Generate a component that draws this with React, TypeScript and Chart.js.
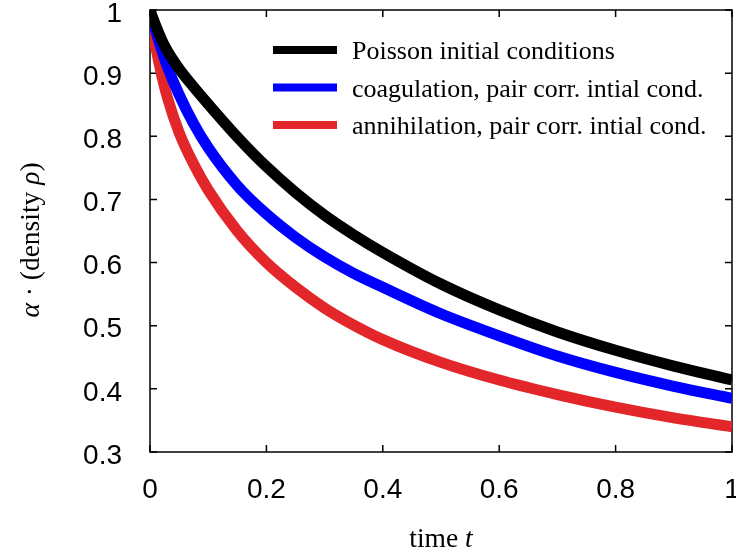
import React, { useEffect, useRef } from "react";
import { Chart, registerables } from "chart.js";

Chart.register(...registerables);

// time values (shared by all three series)
const T = [0, 0.005, 0.01, 0.02, 0.03, 0.05, 0.075, 0.1, 0.15, 0.2, 0.25, 0.3, 0.35, 0.4, 0.5, 0.6, 0.7, 0.8, 0.9, 1.0];
// alpha * density for each case
const POISSON = [1.0, 0.987, 0.975, 0.953, 0.935, 0.907, 0.878, 0.851, 0.799, 0.752, 0.711, 0.675, 0.644, 0.616, 0.566, 0.525, 0.49, 0.461, 0.436, 0.414];
const COAGULATION = [1.0, 0.982, 0.966, 0.937, 0.91, 0.866, 0.82, 0.782, 0.722, 0.677, 0.64, 0.609, 0.583, 0.561, 0.519, 0.484, 0.452, 0.426, 0.404, 0.385];
const ANNIHILATION = [1.0, 0.968, 0.941, 0.897, 0.861, 0.806, 0.756, 0.715, 0.65, 0.6, 0.561, 0.528, 0.501, 0.478, 0.442, 0.414, 0.391, 0.371, 0.354, 0.34];

const SERIES_LABELS = [
  "Poisson initial conditions",
  "coagulation, pair corr. intial cond.",
  "annihilation, pair corr. intial cond.",
];
const SERIES_COLORS = ["#000000", "#0000ff", "#e3262a"];

const X_TICKS = [0, 0.2, 0.4, 0.6, 0.8, 1];
const X_TICK_LABELS = ["0", "0.2", "0.4", "0.6", "0.8", "1"];
const Y_TICKS = [0.3, 0.4, 0.5, 0.6, 0.7, 0.8, 0.9, 1];
const Y_TICK_LABELS = ["0.3", "0.4", "0.5", "0.6", "0.7", "0.8", "0.9", "1"];

const SERIF = '"Liberation Serif", "Times New Roman", serif';
const SANS = '"Liberation Sans", Arial, sans-serif';

type Run = { t: string; italic?: boolean };

function drawRuns(ctx: CanvasRenderingContext2D, runs: Run[], x: number, y: number, size: number) {
  const fontFor = (r: Run) => `${r.italic ? "italic " : ""}${size}px ${SERIF}`;
  let total = 0;
  const widths = runs.map((r) => {
    ctx.font = fontFor(r);
    const w = ctx.measureText(r.t).width;
    total += w;
    return w;
  });
  let cx = x - total / 2;
  ctx.textAlign = "left";
  ctx.textBaseline = "alphabetic";
  runs.forEach((r, i) => {
    ctx.font = fontFor(r);
    ctx.fillText(r.t, cx, y);
    cx += widths[i];
  });
}

const decorPlugin = {
  id: "decor",
  beforeDatasetsDraw(chart: any) {
    const { ctx, chartArea: a, scales } = chart;
    ctx.save();
    ctx.strokeStyle = "#000";
    ctx.lineWidth = 1.5;
    ctx.strokeRect(a.left, a.top, a.right - a.left, a.bottom - a.top);
    const L = 7;
    ctx.beginPath();
    for (const v of X_TICKS) {
      const px = scales.x.getPixelForValue(v);
      ctx.moveTo(px, a.bottom);
      ctx.lineTo(px, a.bottom - L);
      ctx.moveTo(px, a.top);
      ctx.lineTo(px, a.top + L);
    }
    for (const v of Y_TICKS) {
      const py = scales.y.getPixelForValue(v);
      ctx.moveTo(a.left, py);
      ctx.lineTo(a.left + L, py);
      ctx.moveTo(a.right, py);
      ctx.lineTo(a.right - L, py);
    }
    ctx.stroke();
    ctx.restore();
  },
  afterDraw(chart: any) {
    const { ctx, chartArea: a } = chart;
    ctx.save();
    ctx.fillStyle = "#000";
    // x title
    drawRuns(ctx, [{ t: "time " }, { t: "t", italic: true }], (a.left + a.right) / 2, 547, 27.5);
    // y title
    ctx.save();
    ctx.translate(39, 240);
    ctx.rotate(-Math.PI / 2);
    drawRuns(
      ctx,
      [{ t: "α", italic: true }, { t: " · (density " }, { t: "ρ", italic: true }, { t: ")" }],
      0,
      0,
      27.5
    );
    ctx.restore();
    // legend
    chart.data.datasets.forEach((ds: any, i: number) => {
      const cy = 50 + i * 37.5;
      ctx.beginPath();
      ctx.strokeStyle = ds.borderColor;
      ctx.lineWidth = 8;
      ctx.lineCap = "butt";
      ctx.moveTo(273, cy);
      ctx.lineTo(337, cy);
      ctx.stroke();
      ctx.fillStyle = "#000";
      ctx.font = `26px ${SERIF}`;
      ctx.textAlign = "left";
      ctx.textBaseline = "alphabetic";
      ctx.fillText(ds.label, 352, cy + 9);
    });
    ctx.restore();
  },
};

export default function App() {
  const ref = useRef<HTMLCanvasElement>(null);

  useEffect(() => {
    if (!ref.current) return;
    const series = [POISSON, COAGULATION, ANNIHILATION];
    const chart = new Chart(ref.current, {
      type: "line",
      data: {
        datasets: series.map((vals, i) => ({
          label: SERIES_LABELS[i],
          data: T.map((t, j) => ({ x: t, y: vals[j] })),
          borderColor: SERIES_COLORS[i],
          backgroundColor: SERIES_COLORS[i],
          borderWidth: 11,
          pointRadius: 0,
          fill: false,
          cubicInterpolationMode: "monotone" as const,
          borderCapStyle: "butt" as const,
          borderJoinStyle: "round" as const,
        })),
      },
      options: {
        responsive: false,
        animation: false,
        layout: { padding: { top: 10, right: 4, left: 0, bottom: 0 } },
        plugins: { legend: { display: false }, tooltip: { enabled: false }, title: { display: false } },
        scales: {
          x: {
            type: "linear",
            min: 0,
            max: 1,
            afterBuildTicks: (s: any) => {
              s.ticks = X_TICKS.map((v) => ({ value: v }));
            },
            afterFit: (s: any) => {
              s.height = 105;
              s.paddingLeft = 0;
              s.paddingRight = 0;
            },
            ticks: {
              callback: (_v: any, i: number) => X_TICK_LABELS[i],
              font: { family: SANS, size: 28 },
              color: "#000",
              padding: 21,
              maxRotation: 0,
              autoSkip: false,
            },
            grid: { display: false, drawTicks: false },
            border: { display: false },
          },
          y: {
            type: "linear",
            min: 0.3,
            max: 1,
            afterBuildTicks: (s: any) => {
              s.ticks = Y_TICKS.map((v) => ({ value: v }));
            },
            afterFit: (s: any) => {
              s.width = 150;
              s.paddingTop = 0;
              s.paddingBottom = 0;
            },
            ticks: {
              callback: (_v: any, i: number) => Y_TICK_LABELS[i],
              font: { family: SANS, size: 28 },
              color: "#000",
              padding: 28,
              labelOffset: 4,
              autoSkip: false,
            },
            grid: { display: false, drawTicks: false },
            border: { display: false },
          },
        },
      },
      plugins: [decorPlugin],
    });
    return () => chart.destroy();
  }, []);

  return (
    <canvas
      ref={ref}
      width={736}
      height={557}
      style={{ position: "absolute", left: 0, top: 0, display: "block" }}
    />
  );
}
